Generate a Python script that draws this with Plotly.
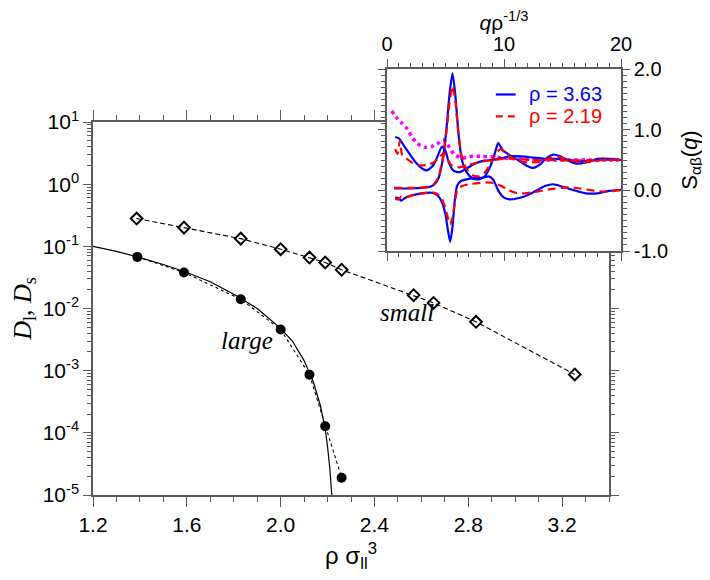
import math
import plotly.graph_objects as go

# ---------------- main panel data ----------------
rho_small = [1.386, 1.588, 1.83, 2.0, 2.123, 2.19, 2.26, 2.567, 2.652, 2.833, 3.254]
D_small = [0.28, 0.20, 0.133, 0.090, 0.066, 0.055, 0.042, 0.0164, 0.0123, 0.0061, 0.00087]

rho_large = [1.389, 1.588, 1.83, 2.0, 2.123, 2.19, 2.26]
D_large = [0.0676, 0.038, 0.0141, 0.0046, 0.00086, 0.000128, 0.000019]

rho_fit = [1.20, 1.30, 1.40, 1.50, 1.60, 1.70, 1.80, 1.90, 2.00, 2.05, 2.10, 2.14, 2.17, 2.19, 2.20, 2.21, 2.218]
D_fit = [0.100, 0.083, 0.066, 0.051, 0.038, 0.027, 0.0170, 0.0100, 0.0048, 0.0030, 0.00145,
         0.00065, 0.00027, 0.000115, 0.000060, 0.000026, 0.000010]

y_tickvals = [1e-5, 1e-4, 1e-3, 1e-2, 1e-1, 1, 10]
y_ticktext = ["10<sup>-5</sup>", "10<sup>-4</sup>", "10<sup>-3</sup>", "10<sup>-2</sup>",
              "10<sup>-1</sup>", "10<sup>0</sup>", "10<sup>1</sup>"]
x_tickvals = [1.2, 1.6, 2.0, 2.4, 2.8, 3.2]
x_ticktext = ["1.2", "1.6", "2.0", "2.4", "2.8", "3.2"]

# ---------------- inset data ----------------
blue_ll_q = [0.6, 1.5, 2.5, 3.5, 4.0, 4.4, 4.8, 5.1, 5.35, 5.6, 5.85, 6.1, 6.4, 6.8, 7.3, 7.8, 8.3, 8.8,
             9.2, 9.5, 9.9, 10.5, 11.2, 11.9, 12.5, 13.1, 13.7, 14.2, 14.8, 15.5, 16.2, 17.0, 18.0, 19.0, 20.0]
blue_ll_S = [0.03, 0.03, 0.035, 0.05, 0.09, 0.2, 0.55, 1.05, 1.6, 1.93, 1.55, 0.95, 0.5, 0.3, 0.2, 0.18,
             0.22, 0.38, 0.6, 0.78, 0.66, 0.58, 0.5, 0.41, 0.37, 0.43, 0.54, 0.59, 0.56, 0.49, 0.44, 0.46,
             0.52, 0.52, 0.5]

blue_ss_q = [0.7, 1.0, 1.5, 2.0, 2.5, 3.0, 3.4, 3.9, 4.3, 4.7, 5.0, 5.3, 5.7, 6.2, 6.8, 7.5, 8.3, 9.0,
             9.8, 10.5, 11.5, 12.5, 13.5, 14.5, 15.5, 16.5, 17.5, 18.5, 20.0]
blue_ss_S = [0.88, 0.86, 0.72, 0.58, 0.45, 0.36, 0.33, 0.40, 0.55, 0.72, 0.65, 0.45, 0.32, 0.30, 0.36,
             0.44, 0.49, 0.50, 0.53, 0.56, 0.56, 0.54, 0.52, 0.52, 0.50, 0.48, 0.49, 0.51, 0.50]

blue_ls_q = [0.7, 1.0, 1.2, 1.6, 2.2, 3.0, 3.8, 4.3, 4.7, 5.0, 5.2, 5.4, 5.6, 5.8, 6.0, 6.3, 6.8, 7.5,
             8.2, 8.7, 9.1, 9.5, 10.0, 10.5, 11.2, 12.0, 12.8, 13.5, 14.2, 15.0, 16.0, 17.0, 18.0, 19.0, 20.0]
blue_ls_S = [-0.12, -0.13, -0.17, -0.12, -0.08, -0.05, -0.04, -0.08, -0.2, -0.4, -0.65, -0.85, -0.6,
             -0.15, 0.08, 0.15, 0.18, 0.2, 0.21, 0.23, 0.17, 0.0, -0.12, -0.15, -0.13, -0.08, 0.0, 0.07,
             0.1, 0.06, 0.0, -0.05, -0.05, -0.01, 0.01]

red_ll_q = [0.6, 1.5, 2.5, 3.5, 4.0, 4.4, 4.8, 5.1, 5.35, 5.6, 5.85, 6.1, 6.4, 6.8, 7.3, 7.8, 8.3, 8.8,
            9.3, 9.7, 10.2, 11.0, 12.0, 13.0, 14.0, 14.6, 15.5, 16.5, 17.5, 18.5, 20.0]
red_ll_S = [0.04, 0.04, 0.04, 0.06, 0.1, 0.22, 0.55, 1.0, 1.45, 1.72, 1.45, 0.95, 0.55, 0.35, 0.25,
            0.23, 0.28, 0.42, 0.6, 0.68, 0.6, 0.5, 0.46, 0.47, 0.53, 0.55, 0.51, 0.46, 0.47, 0.5, 0.5]

red_ss_q = [0.7, 0.9, 1.1, 1.3, 1.7, 2.2, 2.8, 3.4, 4.0, 4.5, 4.9, 5.2, 5.6, 6.2, 7.0, 8.0, 9.0, 10.0,
            11.0, 12.5, 14.0, 16.0, 18.0, 20.0]
red_ss_S = [0.68, 0.6, 0.82, 0.58, 0.52, 0.45, 0.41, 0.42, 0.46, 0.55, 0.62, 0.5, 0.4, 0.38, 0.42,
            0.47, 0.5, 0.52, 0.52, 0.5, 0.5, 0.49, 0.5, 0.5]

red_ls_q = [0.7, 1.0, 1.2, 1.6, 2.2, 3.0, 3.8, 4.3, 4.7, 5.0, 5.2, 5.4, 5.6, 5.8, 6.0, 6.4, 7.0, 7.8,
            8.5, 9.2, 9.8, 10.4, 11.0, 11.8, 12.8, 14.0, 15.4, 16.5, 17.5, 18.5, 20.0]
red_ls_S = [-0.14, -0.15, -0.1, -0.11, -0.08, -0.05, -0.03, -0.06, -0.15, -0.3, -0.45, -0.56, -0.45,
            -0.2, 0.0, 0.07, 0.1, 0.12, 0.13, 0.12, 0.07, 0.0, -0.04, -0.05, -0.02, 0.02, 0.05, 0.03,
            0.0, -0.02, 0.0]

mag_q = [0.4, 0.9, 1.3, 1.7, 2.2, 2.6, 3.2, 3.8, 4.4, 4.8, 5.2, 5.7, 6.4, 7.2, 8.0, 9.0, 10.0, 11.0,
         12.0, 13.0, 14.0, 15.0, 16.0, 17.0, 18.0, 19.0, 20.0]
mag_S = [1.31, 1.18, 1.10, 1.02, 0.86, 0.77, 0.71, 0.72, 0.78, 0.83, 0.75, 0.6, 0.53, 0.56, 0.56,
         0.55, 0.53, 0.52, 0.51, 0.5, 0.5, 0.5, 0.5, 0.5, 0.5, 0.5, 0.5]

inset_xvals = [0, 10, 20]
inset_xtext = ["0", "10", "20"]
inset_yvals = [-1, 0, 1, 2]
inset_ytext = ["-1.0", "0.0", "1.0", "2.0"]

legend_labels = ["ρ = 3.63", "ρ = 2.19"]

# ---------------- geometry (page offset of 8 px accounted) ----------------
W, H = 710, 580
OFF = 8
ML, MR, MT, MB = 93 - OFF, 710 - 621 + OFF, 69 - OFF, 580 - 495 + OFF
pw, ph = W - ML - MR, H - MT - MB
main_x_dom = [0, (609 - 93) / pw]
main_y_dom = [0, (495 - 122) / ph]
ins_x_dom = [(387 - 93) / pw, 1]
ins_y_dom = [(495 - 251) / ph, 1]

AX = "#5a5a5a"
SANS = "Liberation Sans, Arial, sans-serif"
SERIF = "Liberation Serif, Times New Roman, serif"

fig = go.Figure()

# main traces
fig.add_trace(go.Scatter(x=rho_fit, y=D_fit, mode="lines", line=dict(color="black", width=1.2),
                         xaxis="x", yaxis="y", showlegend=False))
fig.add_trace(go.Scatter(x=rho_large, y=D_large, mode="lines+markers",
                         line=dict(color="black", width=1.1, dash="3px,3px"),
                         marker=dict(symbol="circle", size=10, color="black"),
                         xaxis="x", yaxis="y", showlegend=False))
fig.add_trace(go.Scatter(x=rho_small, y=D_small, mode="lines+markers",
                         line=dict(color="black", width=1.1, dash="5px,3px"),
                         marker=dict(symbol="diamond-open", size=9, color="black", line=dict(width=2)),
                         xaxis="x", yaxis="y", showlegend=False))

# inset traces
def inset_line(q, s, color, dash, width=2.2):
    fig.add_trace(go.Scatter(x=q, y=s, mode="lines",
                             line=dict(color=color, width=width, dash=dash, shape="spline", smoothing=0.6),
                             xaxis="x2", yaxis="y2", showlegend=False))

inset_line(mag_q, mag_S, "#ff00ff", "dot", 3.5)
inset_line(blue_ss_q, blue_ss_S, "#0000ff", "solid")
inset_line(blue_ll_q, blue_ll_S, "#0000ff", "solid")
inset_line(blue_ls_q, blue_ls_S, "#0000ff", "solid")
inset_line(red_ss_q, red_ss_S, "#ff0000", "8px,5px")
inset_line(red_ll_q, red_ll_S, "#ff0000", "8px,5px")
inset_line(red_ls_q, red_ls_S, "#ff0000", "8px,5px")

# legend-like entries in inset
fig.add_trace(go.Scatter(x=[9.3, 11.0], y=[1.58, 1.58], mode="lines", line=dict(color="#0000ff", width=2.2),
                         xaxis="x2", yaxis="y2", showlegend=False, hoverinfo="skip"))
fig.add_trace(go.Scatter(x=[9.3, 11.0], y=[1.22, 1.22], mode="lines",
                         line=dict(color="#ff0000", width=2.2, dash="7px,5px"),
                         xaxis="x2", yaxis="y2", showlegend=False, hoverinfo="skip"))

annotations = [
    dict(x=12.0, y=1.58, xref="x2", yref="y2", text=legend_labels[0], showarrow=False, xanchor="left",
         font=dict(family=SANS, size=20, color="#0000ff")),
    dict(x=12.0, y=1.22, xref="x2", yref="y2", text=legend_labels[1], showarrow=False, xanchor="left",
         font=dict(family=SANS, size=20, color="#ff0000")),
    dict(x=1.855, y=math.log10(0.0031), xref="x", yref="y", text="<i>large</i>", showarrow=False,
         font=dict(family=SERIF, size=25, color="black")),
    dict(x=2.54, y=math.log10(0.0087), xref="x", yref="y", text="<i>small</i>", showarrow=False,
         font=dict(family=SERIF, size=25, color="black")),
]

axcommon = dict(showline=True, linecolor=AX, linewidth=1.5, ticks="outside", tickcolor=AX, tickwidth=1.2,
                showgrid=False, zeroline=False, mirror="ticks", automargin=False)

minor_y = [m * 10.0 ** e for e in range(-5, 1) for m in range(2, 10)]

fig.update_layout(
    width=W, height=H, margin=dict(l=ML, r=MR, t=MT, b=MB),
    paper_bgcolor="white", plot_bgcolor="white",
    font=dict(family=SANS, color="black"),
    annotations=annotations,
    xaxis=dict(domain=main_x_dom, range=[1.2, 3.4], anchor="y", tickmode="array",
               tickvals=x_tickvals, ticktext=x_ticktext, ticklen=10,
               minor=dict(dtick=0.1, tick0=1.2, ticklen=5, ticks="outside", tickcolor=AX),
               tickfont=dict(size=21, family=SANS),
               title=dict(text="ρ σ<sub>ll</sub><sup>3</sup>", font=dict(size=24, family=SANS), standoff=12),
               **axcommon),
    yaxis=dict(domain=main_y_dom, type="log", range=[-5, 1], anchor="x", tickmode="array",
               tickvals=y_tickvals, ticktext=y_ticktext, ticklen=8,
               minor=dict(tickmode="array", tickvals=minor_y, ticklen=4, ticks="outside", tickcolor=AX),
               tickfont=dict(size=21, family=SANS),
               title=dict(text="<i>D</i><sub>l</sub>, <i>D</i><sub>s</sub>",
                          font=dict(size=26, family=SERIF), standoff=18),
               **axcommon),
    xaxis2=dict(domain=ins_x_dom, range=[0, 20], anchor="y2", side="top", tickmode="array",
                tickvals=inset_xvals, ticktext=inset_xtext, ticklen=8,
                minor=dict(dtick=1, tick0=0, ticklen=4, ticks="outside", tickcolor=AX),
                tickfont=dict(size=20, family=SANS),
                title=dict(text="<i>q</i>ρ<sup>-1/3</sup>", font=dict(size=21, family=SANS), standoff=4),
                **axcommon),
    yaxis2=dict(domain=ins_y_dom, range=[-1, 2], anchor="x2", side="right", tickmode="array",
                tickvals=inset_yvals, ticktext=inset_ytext, ticklen=7,
                minor=dict(dtick=0.1, tick0=0, ticklen=4, ticks="outside", tickcolor=AX),
                tickfont=dict(size=20, family=SANS),
                title=dict(text="S<sub>αβ</sub>(<i>q</i>)", font=dict(size=22, family=SANS), standoff=14),
                **axcommon),
)

fig.write_html("out.html")
